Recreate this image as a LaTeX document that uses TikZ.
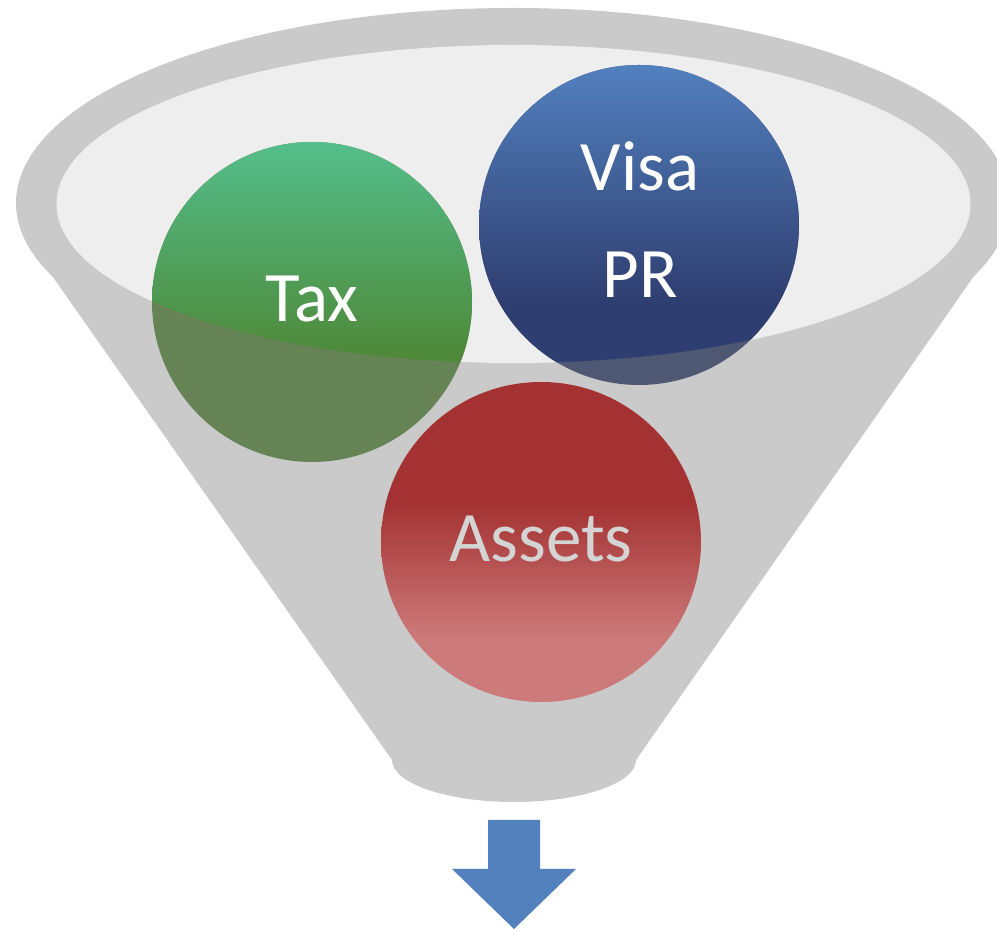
\documentclass[tikz,border=0pt]{standalone}
\usepackage{fontspec}
\setmainfont{Carlito}
\definecolor{funnelgray}{RGB}{202,202,202}
\definecolor{innergray}{RGB}{238,238,238}
\definecolor{taxtop}{RGB}{84,190,140}
\definecolor{taxbot}{RGB}{78,138,58}
\definecolor{taxlow}{RGB}{102,131,85}
\definecolor{visatop}{RGB}{82,128,190}
\definecolor{visabot}{RGB}{47,62,112}
\definecolor{visalow}{RGB}{79,88,115}
\definecolor{assettop}{RGB}{164,50,50}
\definecolor{assetbot}{RGB}{205,122,122}
\definecolor{assettext}{RGB}{212,212,212}
\definecolor{arrowblue}{RGB}{82,129,189}
\pgfdeclareverticalshading{taxshade}{100bp}{color(0bp)=(taxbot); color(25bp)=(taxbot); color(42bp)=(taxbot); color(75bp)=(taxtop); color(100bp)=(taxtop)}
\pgfdeclareverticalshading{visashade}{100bp}{color(0bp)=(visabot); color(25bp)=(visabot); color(38bp)=(visabot); color(75bp)=(visatop); color(100bp)=(visatop)}
\pgfdeclareverticalshading{assetshade}{100bp}{color(0bp)=(assetbot); color(25bp)=(assetbot); color(35bp)=(assetbot); color(56bp)=(assettop); color(75bp)=(assettop); color(100bp)=(assettop)}
\tikzset{
  label text/.style={font=\fontsize{71}{107}\selectfont, inner sep=0pt, anchor=base},
}
\begin{document}
\begin{tikzpicture}[x=1pt,y=1pt]
\useasboundingbox (0,0) rectangle (997,931);
\clip (0,0) rectangle (997,931);
% funnel body
\fill[funnelgray] (513,728) ellipse [x radius=497, y radius=195];
\fill[funnelgray] (22,698) -- (392,171) arc [start angle=180, end angle=360, x radius=122, y radius=42] -- (1004,698) -- cycle;
% inner opening
\fill[innergray] (513.5,727) ellipse [x radius=457, y radius=159];
% Tax circle
\coordinate (taxc) at (312,629);
\coordinate (visac) at (639,706);
\coordinate (assetc) at (541,389);
\fill[taxlow] (taxc) circle [radius=160];
\fill[visalow] (visac) circle [radius=160];
\begin{scope}
  \clip (513.5,727) ellipse [x radius=457, y radius=159];
  \shade[shading=taxshade] (taxc) circle [radius=160];
  \shade[shading=visashade] (visac) circle [radius=160];
\end{scope}
\shade[shading=assetshade] (assetc) circle [radius=160];
% labels
\node[label text, text=white] (tax) at (312,609) {Tax};
\node[label text, text=white] (visa) at (640,740) {Visa};
\node[label text, text=white] (pr) at (640,633) {PR};
\node[label text, text=assettext] (assets) at (541,369) {Assets};
% arrow
\fill[arrowblue] (488,111) -- (540,111) -- (540,62) -- (576,62) -- (514,2) -- (452,62) -- (488,62) -- cycle;
\end{tikzpicture}
\end{document}
